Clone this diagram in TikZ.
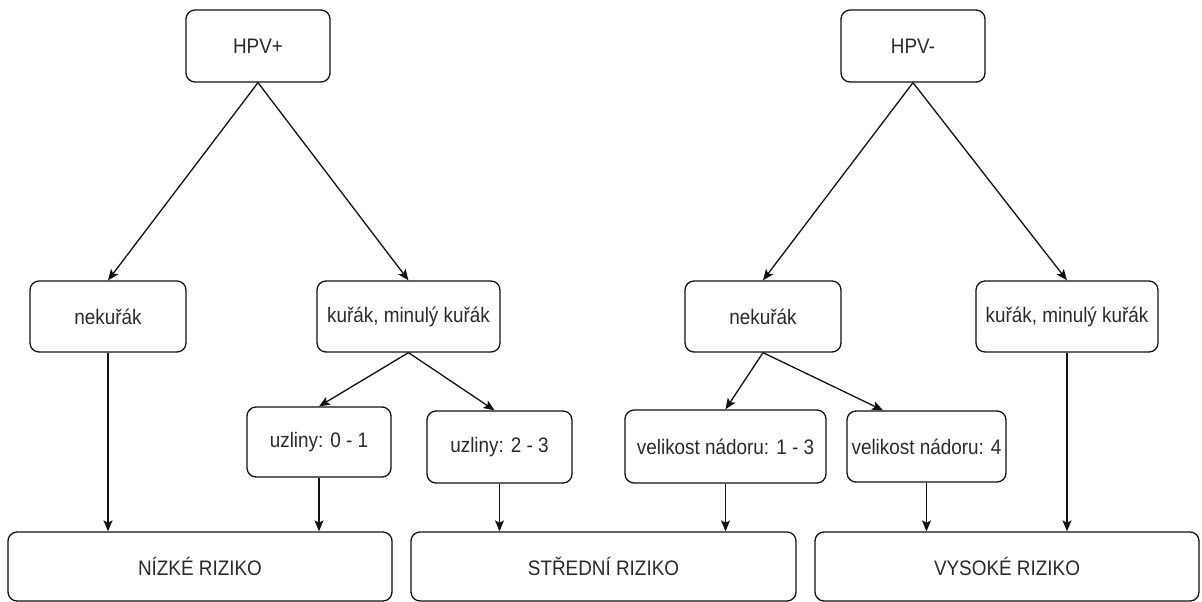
\documentclass[tikz,border=0pt]{standalone}
\usepackage{fontspec}
\setmainfont{Liberation Sans}[FakeStretch=0.9]
\usetikzlibrary{arrows.meta}
\definecolor{txt}{HTML}{2A2A2A}
\definecolor{ln}{HTML}{111111}
\tikzset{
  box/.style={draw=ln, line width=1.3pt, rounded corners=9pt, inner sep=0pt,
    text=txt, font=\fontsize{21}{24}\selectfont, align=center},
  conn/.style={draw=ln, line width=1.3pt, -{Stealth[length=11pt,width=9pt,inset=2.5pt]}}
}
\begin{document}
\begin{tikzpicture}[x=1pt,y=-1pt]
\useasboundingbox (0,0) rectangle (1202,602);
% top
\node[box, minimum width=144pt, minimum height=72pt] (hpvp) at (258,46) {HPV+};
\node[box, minimum width=144pt, minimum height=72pt] (hpvm) at (913,46) {HPV-};
% second row
\node[box, minimum width=156pt, minimum height=71pt] (nek1) at (108,316.5) {nekuřák};
\node[box, minimum width=183pt, minimum height=71pt] (kur1) at (408.5,316.5) {kuřák, minulý kuřák};
\node[box, minimum width=156pt, minimum height=71pt] (nek2) at (763,316.5) {nekuřák};
\node[box, minimum width=182pt, minimum height=71pt] (kur2) at (1067,316.5) {kuřák, minulý kuřák};
% third row
\node[box, minimum width=144pt, minimum height=70pt] (uz1) at (319,442) {uzliny: 0 - 1};
\node[box, minimum width=145pt, minimum height=72pt] (uz2) at (499.5,447) {uzliny: 2 - 3};
\node[box, minimum width=201pt, minimum height=73pt] (vel1) at (725.5,446.5) {velikost nádoru: 1 - 3};
\node[box, minimum width=159pt, minimum height=71pt] (vel2) at (926.5,446.5) {velikost nádoru: 4};
% bottom
\node[box, minimum width=384pt, minimum height=69pt] (low) at (200,566.5) {NÍZKÉ RIZIKO};
\node[box, minimum width=385pt, minimum height=69pt] (mid) at (603.5,566.5) {STŘEDNÍ RIZIKO};
\node[box, minimum width=384pt, minimum height=69pt] (high) at (1007,566.5) {VYSOKÉ RIZIKO};
\coordinate (vel2in) at ([xshift=-43.5pt]vel2.north);
% connectors
\draw[conn] (hpvp.south) -- (nek1.north);
\draw[conn] (hpvp.south) -- (kur1.north);
\draw[conn] (hpvm.south) -- (nek2.north);
\draw[conn] (hpvm.south) -- (kur2.north);
\draw[conn] (kur1.south) -- (uz1.north);
\draw[conn] (kur1.south) -- ([xshift=-5pt]uz2.north);
\draw[conn] (nek2.south) -- (vel1.north);
\draw[conn] (nek2.south) -- (vel2in);
\draw[conn] (nek1.south) -- (nek1.south |- low.north);
\draw[conn] (uz1.south) -- (uz1.south |- low.north);
\draw[conn] (uz2.south) -- (uz2.south |- mid.north);
\draw[conn] (vel1.south) -- (vel1.south |- mid.north);
\draw[conn] (vel2.south) -- (vel2.south |- high.north);
\draw[conn] (kur2.south) -- (kur2.south |- high.north);
\end{tikzpicture}
\end{document}
